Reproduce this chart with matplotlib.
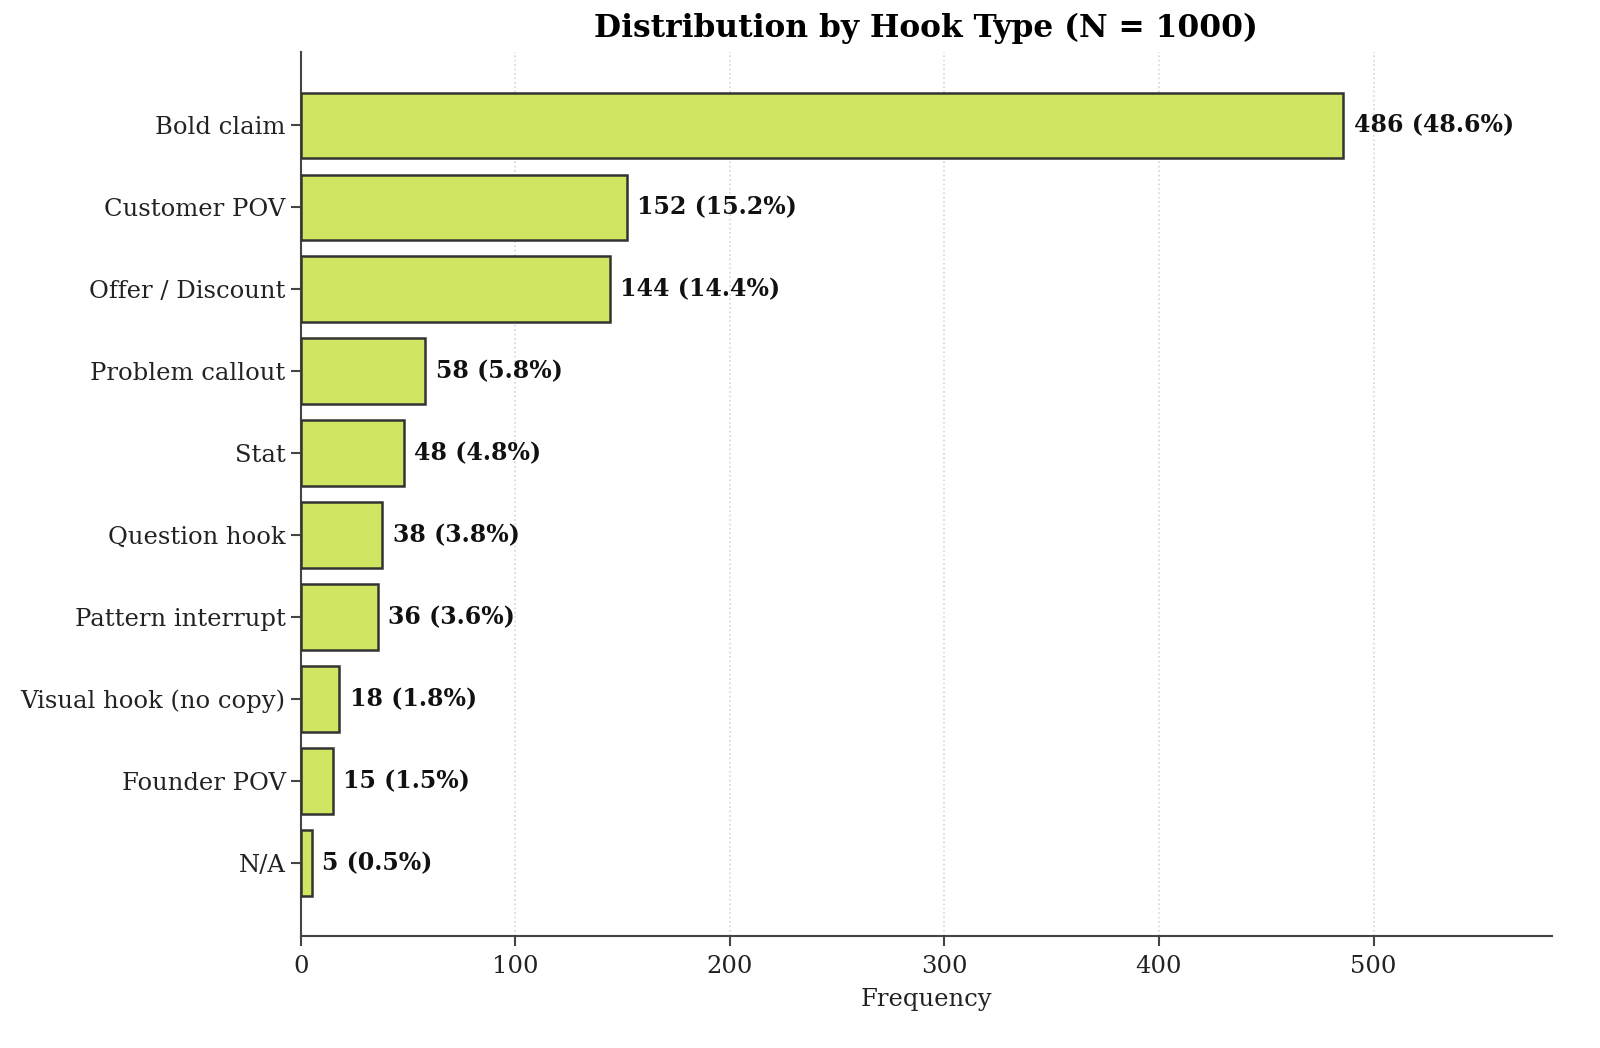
import matplotlib
matplotlib.use("Agg")
import matplotlib.pyplot as plt

categories = ["Bold claim", "Customer POV", "Offer / Discount", "Problem callout", "Stat",
              "Question hook", "Pattern interrupt", "Visual hook (no copy)", "Founder POV", "N/A"]
counts = [486, 152, 144, 58, 48, 38, 36, 18, 15, 5]
total = 1000

plt.rcParams['font.family'] = ['DejaVu Serif']

fig = plt.figure(figsize=(16, 10.48), dpi=100)
ax = fig.add_axes([0.188, 0.107, 0.782, 0.843])

y = list(range(len(categories)))
ax.barh(y, counts, height=0.8, color="#d0e562", edgecolor="#333333", linewidth=1.8, zorder=3)
ax.set_yticks(y)
ax.set_yticklabels(categories, fontsize=17.5, color='#222222')
ax.invert_yaxis()
ax.set_xlim(0, max(counts) * 1.2)
ax.tick_params(axis='both', length=7, width=1.5, colors='#444444', labelcolor='#222222')
ax.tick_params(axis='y', pad=4)
ax.tick_params(axis='x', labelsize=17.5, pad=7)
ax.set_xlabel("Frequency", fontsize=17.5, color='#222222', labelpad=7)
ax.set_title(f"Distribution by Hook Type (N = {total})", fontsize=22.5, fontweight='bold', pad=11)

for yi, c in zip(y, counts):
    ax.text(c + max(counts) * 0.01, yi, f"{c} ({c / total * 100:.1f}%)", va='center', ha='left',
            fontsize=17, fontweight='bold', color='#111111')

ax.grid(axis='x', linestyle=':', color='#d5d5d5', linewidth=1.2, zorder=0)
ax.set_axisbelow(True)
for s in ['top', 'right']:
    ax.spines[s].set_visible(False)
for s in ['left', 'bottom']:
    ax.spines[s].set_color('#444444')
    ax.spines[s].set_linewidth(1.5)

fig.savefig("out.png", dpi=100)
